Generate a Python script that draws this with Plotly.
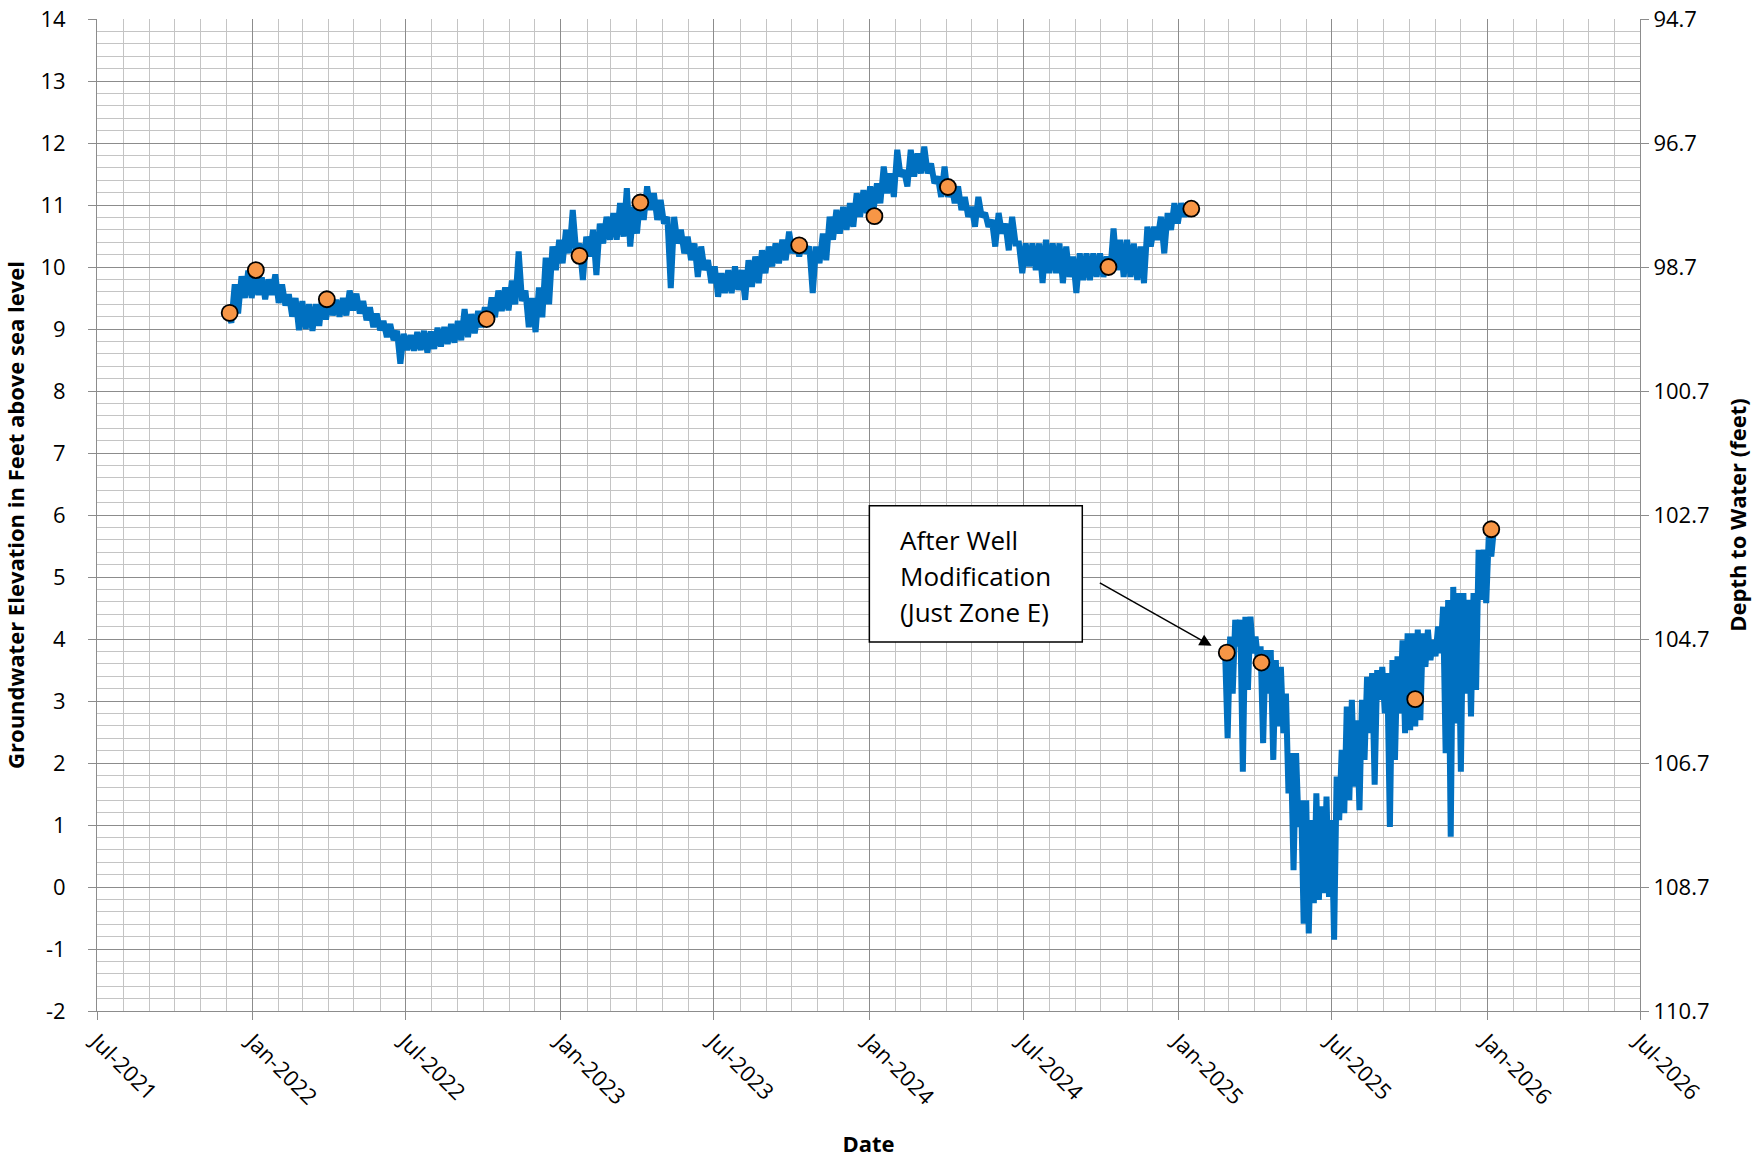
import plotly.graph_objects as go
import pandas as pd

# ---------------- DATA ----------------
# Continuous logger record, part 1 (every 4 days from 2021-12-03), values in ft above sea level
seg1_start = "2021-12-03"
seg1_step = "4D"
seg1_vals = [
    9.25, 9.10, 9.72, 9.25, 9.85, 9.50, 9.94, 9.50, 9.88, 9.55,
    9.83, 9.48, 9.80, 9.55, 9.88, 9.42, 9.72, 9.38, 9.56, 9.20,
    9.50, 8.98, 9.45, 9.00, 9.40, 8.97, 9.40, 9.05, 9.56, 9.15,
    9.55, 9.22, 9.47, 9.20, 9.50, 9.22, 9.62, 9.30, 9.57, 9.25,
    9.45, 9.14, 9.35, 9.03, 9.25, 8.98, 9.13, 8.87, 9.08, 8.82,
    8.97, 8.44, 8.92, 8.66, 8.90, 8.65, 8.95, 8.66, 8.97, 8.62,
    8.96, 8.68, 9.02, 8.72, 9.03, 8.76, 9.08, 8.78, 9.13, 8.82,
    9.32, 8.87, 9.24, 8.93, 9.29, 9.03, 9.35, 9.08, 9.51, 9.19,
    9.62, 9.29, 9.67, 9.30, 9.78, 9.40, 10.25, 9.45, 9.62, 9.03,
    9.50, 8.95, 9.67, 9.19, 10.15, 9.40,
    10.33, 9.95, 10.44, 10.06, 10.60, 10.22, 10.92, 10.25, 10.38, 9.79,
    10.49, 10.17, 10.60, 9.87, 10.70, 10.38, 10.81, 10.44, 10.87, 10.44,
    11.03, 10.49, 11.27, 10.33, 10.97, 10.54, 11.13, 10.76, 11.30, 10.92,
    11.19, 10.76, 11.08, 10.70, 10.81, 9.66, 10.81, 10.38, 10.60, 10.22,
    10.49, 10.11, 10.38, 9.84, 10.33, 9.95, 10.11, 9.74, 10.01, 9.52,
    9.90, 9.58, 9.95, 9.58, 10.01, 9.63, 9.95, 9.47, 10.11, 9.68,
    10.17, 9.74, 10.27, 9.90, 10.33, 10.01, 10.38, 10.06, 10.44, 10.11,
    10.57, 10.22, 10.44, 10.17, 10.44, 10.22, 10.33, 9.58, 10.33, 10.06,
    10.54, 10.11, 10.81, 10.44, 10.92, 10.54, 10.97, 10.60, 11.03, 10.65,
    11.19, 10.81, 11.24, 10.87, 11.30, 10.92,
    11.35, 11.03, 11.62, 11.19, 11.51, 11.13, 11.89, 11.46, 11.56, 11.30,
    11.89, 11.46, 11.83, 11.51, 11.94, 11.51, 11.67, 11.35, 11.46, 11.13,
    11.62, 11.13, 11.35, 11.03, 11.30, 10.92, 11.13, 10.81, 10.97, 10.65,
    11.13, 10.81, 10.87, 10.65, 10.76, 10.33, 10.87, 10.54, 10.70, 10.27,
    10.81, 10.38, 10.38, 9.90, 10.38, 10.01, 10.38, 9.95, 10.38, 9.74,
    10.44, 9.90, 10.38, 9.90, 10.38, 9.74, 10.33, 9.84, 10.17, 9.58,
    10.22, 9.79, 10.22, 9.79, 10.22, 9.84, 10.22, 9.84, 10.17, 9.90,
    10.62, 9.95, 10.44, 9.84, 10.44, 9.84, 10.38, 9.79, 10.33, 9.74,
    10.65, 10.33, 10.65, 10.44, 10.81, 10.22, 10.87, 10.60, 11.03, 10.70,
    11.03, 10.81, 11.03, 10.81,
]

# Continuous logger record, part 2 after well modification (every 3 days from 2025-02-25)
seg2_start = "2025-02-25"
seg2_step = "3D"
seg2_vals = [
    3.80, 2.40, 4.04, 3.12, 4.31, 3.88, 4.31, 1.86, 4.36, 3.18,
    4.36, 3.77, 4.04, 3.66, 3.88, 2.32, 3.82, 3.12, 3.82, 2.05,
    3.66, 2.59, 3.55, 2.48, 3.12, 1.51, 2.16, 0.27, 2.16, 0.97,
    1.40, -0.59, 1.40, -0.75, 1.08, -0.26, 1.51, -0.21, 1.30, -0.10,
    1.46, -0.16, 1.08, -0.85, 1.78, 1.08, 2.21, 1.19, 2.91, 1.40,
    3.02, 1.62, 2.69, 1.24, 3.02, 2.05, 3.39, 2.48, 3.45, 1.65,
    3.50, 3.02, 3.55, 2.80, 3.45, 0.97, 3.66, 2.05, 3.72, 2.80,
    3.98, 2.48, 4.09, 2.53, 4.09, 2.59, 4.15, 2.69, 4.09, 3.55,
    4.15, 3.66, 3.98, 3.72, 4.20, 3.77, 4.52, 2.16, 4.63, 0.81,
    4.84, 2.64, 4.74, 1.86, 4.74, 3.12, 4.63, 2.75, 4.74, 3.18,
    5.44, 4.63, 5.44, 4.58, 5.65, 5.33, 5.76,
]

# Manual measurements (orange circles)
meas_dates = [
    "2021-12-05", "2022-01-05", "2022-03-30", "2022-10-05", "2023-01-23",
    "2023-04-05", "2023-10-10", "2024-01-07", "2024-04-03", "2024-10-10",
    "2025-01-16", "2025-02-27", "2025-04-09", "2025-10-08", "2026-01-06",
]
meas_vals = [
    9.26, 9.95, 9.48, 9.16, 10.18,
    11.04, 10.35, 10.82, 11.29, 10.00,
    10.94, 3.78, 3.62, 3.03, 5.77,
]

# Depth to water = datum - elevation
depth_datum = 108.7
y_ticks_left = list(range(-2, 15))
y_ticks_right = [94.7, 96.7, 98.7, 100.7, 102.7, 104.7, 106.7, 108.7, 110.7]

annotation_lines = ["After Well", "Modification", "(Just Zone E)"]

# ---------------- FIGURE ----------------
seg1_dates = pd.date_range(seg1_start, periods=len(seg1_vals), freq=seg1_step)
seg2_dates = pd.date_range(seg2_start, periods=len(seg2_vals), freq=seg2_step)

LINE_COLOR = "#0070C0"
MARKER_COLOR = "#F79646"
GRID_MAJOR = "#8C8C8C"
GRID_MINOR = "#C4C4C4"
AXIS_COLOR = "#8C8C8C"
FONT = "Open Sans"
TICK_SIZE = 22
TITLE_SIZE = 22

fig = go.Figure()
for d, v in ((seg1_dates, seg1_vals), (seg2_dates, seg2_vals)):
    fig.add_trace(go.Scatter(
        x=d, y=v, mode="lines",
        line=dict(color=LINE_COLOR, width=6),
        hoverinfo="skip", showlegend=False,
    ))

fig.add_trace(go.Scatter(
    x=meas_dates, y=meas_vals, mode="markers",
    marker=dict(color=MARKER_COLOR, size=16, line=dict(color="black", width=1.8)),
    showlegend=False,
))

# invisible trace to carry the depth axis
fig.add_trace(go.Scatter(
    x=meas_dates, y=[depth_datum - v for v in meas_vals], yaxis="y2",
    mode="markers", marker=dict(opacity=0), hoverinfo="skip", showlegend=False,
))

fig.update_layout(
    width=1754, height=1158,
    margin=dict(l=97, r=114, t=19, b=147),
    plot_bgcolor="white", paper_bgcolor="white",
    font=dict(family=FONT, size=TICK_SIZE, color="black"),
    showlegend=False,
    xaxis=dict(
        type="date",
        range=["2021-07-01", "2026-07-01"],
        tick0="2021-07-01", dtick="M6", tickformat="%b-%Y",
        tickangle=45, automargin=False,
        ticks="outside", ticklen=8, tickcolor=AXIS_COLOR, tickwidth=1,
        showline=True, linecolor=AXIS_COLOR, linewidth=1,
        showgrid=True, gridcolor=GRID_MAJOR, gridwidth=1,
        minor=dict(dtick="M1", showgrid=True, gridcolor=GRID_MINOR, gridwidth=1, ticks=""),
        zeroline=False,
        title=dict(text="<b>Date</b>", font=dict(family=FONT, size=TITLE_SIZE), standoff=27),
    ),
    yaxis=dict(
        range=[-2, 14], tickvals=y_ticks_left, ticktext=[str(t) for t in y_ticks_left],
        automargin=False, ticklabelstandoff=18,
        ticks="outside", ticklen=8, tickcolor=AXIS_COLOR, tickwidth=1,
        showline=True, linecolor=AXIS_COLOR, linewidth=1,
        showgrid=True, gridcolor=GRID_MAJOR, gridwidth=1,
        minor=dict(dtick=0.2, tick0=0, showgrid=True, gridcolor=GRID_MINOR, gridwidth=1, ticks=""),
        zeroline=False,
        title=dict(text="<b>Groundwater Elevation in Feet above sea level</b>",
                   font=dict(family=FONT, size=TITLE_SIZE), standoff=17),
    ),
    yaxis2=dict(
        overlaying="y", side="right", automargin=False,
        range=[y_ticks_right[-1], y_ticks_right[0]],
        tickvals=y_ticks_right, ticktext=[f"{t:.1f}" for t in y_ticks_right],
        ticks="outside", ticklen=8, tickcolor=AXIS_COLOR, tickwidth=1,
        showline=True, linecolor=AXIS_COLOR, linewidth=1,
        showgrid=False, zeroline=False,
        title=dict(text="<b>Depth to Water (feet)</b>",
                   font=dict(family=FONT, size=TITLE_SIZE), standoff=22),
    ),
)

# Annotation box
fig.add_shape(
    type="rect", xref="x", yref="y",
    x0="2024-01-01", x1="2024-09-09", y0=3.95, y1=6.15,
    line=dict(color="black", width=1.5), fillcolor="white", layer="above",
)
for i, line_text in enumerate(annotation_lines):
    fig.add_annotation(
        x="2024-02-04", y=5.60 - 0.58 * i, xref="x", yref="y",
        text=line_text, showarrow=False, xanchor="left", yanchor="middle",
        font=dict(family=FONT, size=26, color="black"),
    )
fig.add_annotation(
    x="2025-02-09", y=3.89, xref="x", yref="y",
    ax="2024-09-28", ay=4.92, axref="x", ayref="y",
    text="", showarrow=True, arrowhead=2, arrowsize=1.6, arrowwidth=1.5,
    arrowcolor="black", standoff=0,
)

fig.write_html("out.html", config={"displayModeBar": False},
               post_script="document.body.style.margin='0';")
